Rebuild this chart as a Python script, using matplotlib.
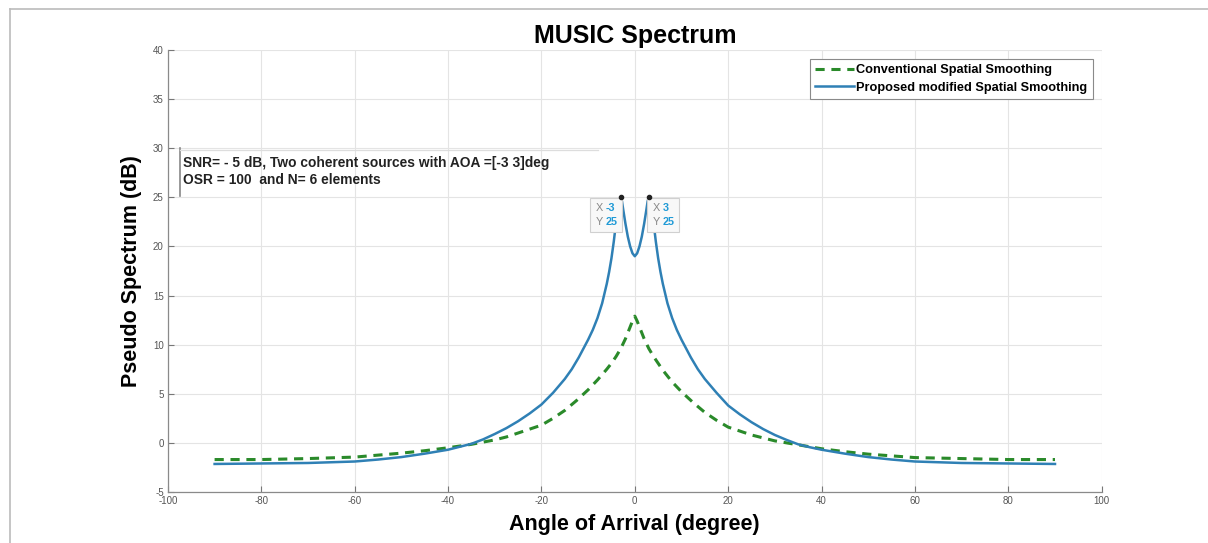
import numpy as np
import matplotlib
matplotlib.use('Agg')
import matplotlib.pyplot as plt
from matplotlib.lines import Line2D
from matplotlib.offsetbox import TextArea, HPacker, VPacker, AnnotationBbox

plt.rcParams['font.family'] = ['Liberation Sans', 'DejaVu Sans']
plt.rcParams['axes.unicode_minus'] = False

# values
angle_prop = [-90, -80, -70, -60, -55, -50, -45, -40, -37.5, -35, -32.5, -30, -27.5, -25,
              -22.5, -20, -17.5, -15, -13.5, -12, -11, -10, -9, -8, -7, -6.5, -6, -5.5,
              -5, -4.5, -4, -3.5, -3, -2.75, -2.5, -2, -1.5, -1, -0.5, 0,
              0.5, 1, 1.5, 2, 2.5, 2.75, 3, 3.5, 4, 4.5, 5, 5.5, 6, 6.5, 7, 8, 9, 10,
              11, 12, 13.5, 15, 17.5, 20, 22.5, 25, 27.5, 30, 32.5, 35, 37.5, 40, 45,
              50, 55, 60, 70, 80, 90]
spec_prop = [-2.15, -2.1, -2.05, -1.9, -1.7, -1.45, -1.1, -0.7, -0.4, -0.1, 0.35, 0.9, 1.5, 2.2,
             3.0, 3.9, 5.1, 6.5, 7.5, 8.7, 9.6, 10.5, 11.5, 12.7, 14.2, 15.2, 16.2, 17.4,
             18.8, 20.5, 22.5, 24.2, 25.0, 24.6, 23.8, 22.3, 21.0, 20.0, 19.3, 19.0,
             19.3, 20.0, 21.0, 22.3, 23.8, 24.6, 25.0, 24.2, 22.5, 20.5, 18.8, 17.4, 16.2, 15.2, 14.2, 12.7, 11.5, 10.5,
             9.6, 8.7, 7.5, 6.5, 5.1, 3.8, 2.9, 2.1, 1.4, 0.8, 0.3, -0.15, -0.45, -0.7, -1.1,
             -1.45, -1.7, -1.9, -2.05, -2.1, -2.15]

angle_conv = [-90, -80, -70, -60, -50, -45, -40, -35, -30, -27.5, -25, -22.5, -20, -17.5,
              -15, -12.5, -10, -8, -6, -5, -4, -3, -2, -1, -0.5, 0,
              0.5, 1, 2, 3, 4, 5, 6, 8, 10, 12.5, 15, 17.5, 20, 22.5, 25,
              27.5, 30, 35, 40, 45, 50, 60, 70, 80, 90]
spec_conv = [-1.7, -1.7, -1.6, -1.45, -1.05, -0.8, -0.5, -0.15, 0.3, 0.6, 1.0, 1.4, 1.8, 2.5,
             3.3, 4.3, 5.4, 6.4, 7.5, 8.1, 8.8, 9.6, 10.6, 11.8, 12.4, 12.9,
             12.4, 11.8, 10.6, 9.6, 8.8, 8.1, 7.4, 6.2, 5.2, 4.1, 3.1, 2.3, 1.6, 1.2, 0.8,
             0.5, 0.2, -0.2, -0.6, -0.9, -1.15, -1.5, -1.6, -1.7, -1.7]

peak_x = [-3, 3]
peak_y = [25, 25]

x_ticks = list(range(-100, 101, 20))
y_ticks = list(range(-5, 41, 5))

blue = '#2f80b5'
green = '#2a8a2a'
tip_blue = '#1f9ad6'

fig = plt.figure(figsize=(12.08, 5.43), dpi=100)
ax = fig.add_axes([0.139, 0.094, 0.773, 0.814])

ax.plot(angle_conv, spec_conv, color=green, linestyle=(0, (3, 2.2)), linewidth=2.2,
        label='Conventional Spatial Smoothing', zorder=3)
ax.plot(angle_prop, spec_prop, color=blue, linewidth=1.8,
        label='Proposed modified Spatial Smoothing', zorder=4)
ax.plot(peak_x, peak_y, 'o', color='#222222', markersize=3, zorder=6)

ax.set_xlim(-100, 100)
ax.set_ylim(-5, 40)
ax.set_xticks(x_ticks)
ax.set_yticks(y_ticks)
ax.grid(True, color='#e4e4e4', linewidth=0.8)
ax.set_axisbelow(True)
ax.tick_params(direction='in', length=4, width=0.8, colors='#777777',
               labelsize=7, labelcolor='#555555', pad=3)
for s in ['top', 'right']:
    ax.spines[s].set_visible(False)
for s in ['left', 'bottom']:
    ax.spines[s].set_color('#8a8a8a')
    ax.spines[s].set_linewidth(0.9)

ax.set_title('MUSIC Spectrum', fontsize=18, fontweight='bold', pad=5)
ax.set_xlabel('Angle of Arrival (degree)', fontsize=15.5, fontweight='bold', labelpad=6)
ax.set_ylabel('Pseudo Spectrum (dB)', fontsize=15.5, fontweight='bold', labelpad=8)

leg = ax.legend(loc='upper right', bbox_to_anchor=(0.997, 0.994),
                prop={'weight': 'bold', 'size': 9.2}, handlelength=3.0,
                handletextpad=0.2, borderpad=0.4, labelspacing=0.45,
                fancybox=False, framealpha=1)
leg.get_frame().set_edgecolor('#8a8a8a')
leg.get_frame().set_linewidth(0.8)

# data tips
for px, py in zip(peak_x, peak_y):
    rows = []
    for lab, val in [('X', px), ('Y', py)]:
        rows.append(HPacker(children=[
            TextArea(lab, textprops=dict(color='#888888', fontsize=7.8)),
            TextArea(str(val), textprops=dict(color=tip_blue, fontsize=7.8, fontweight='bold'))],
            align='baseline', pad=0, sep=2))
    box = VPacker(children=rows, align='left', pad=0, sep=3)
    if px < 0:
        align, off = (1, 1), (-2.5, -4)
    else:
        align, off = (0, 1), (2.5, -4)
    ab = AnnotationBbox(box, (px, py), xybox=off, xycoords='data',
                        boxcoords='offset points', box_alignment=align, pad=0.35,
                        bboxprops=dict(facecolor='#f8f8f8', edgecolor='#d0d0d0',
                                       linewidth=0.8), zorder=5)
    ax.add_artist(ab)

# text box annotation
fig.text(0.1515, 0.684, 'SNR= - 5 dB, Two coherent sources with AOA =[-3 3]deg\n'
         'OSR = 100  and N= 6 elements', fontsize=9.9, fontweight='bold',
         va='center', ha='left', linespacing=1.3, color='#222222')
fig.add_artist(Line2D([0.149, 0.149], [0.639, 0.727], color='#888888', linewidth=1.2))
fig.add_artist(Line2D([0.149, 0.495], [0.724, 0.724], color='#dddddd', linewidth=0.9))

# outer frame of the image
fig.add_artist(Line2D([0.008, 1.0], [0.983, 0.983], color='#bbbbbb', linewidth=1.2))
fig.add_artist(Line2D([0.008, 0.008], [0.0, 0.983], color='#bbbbbb', linewidth=1.2))

fig.savefig('out.png', dpi=100)
